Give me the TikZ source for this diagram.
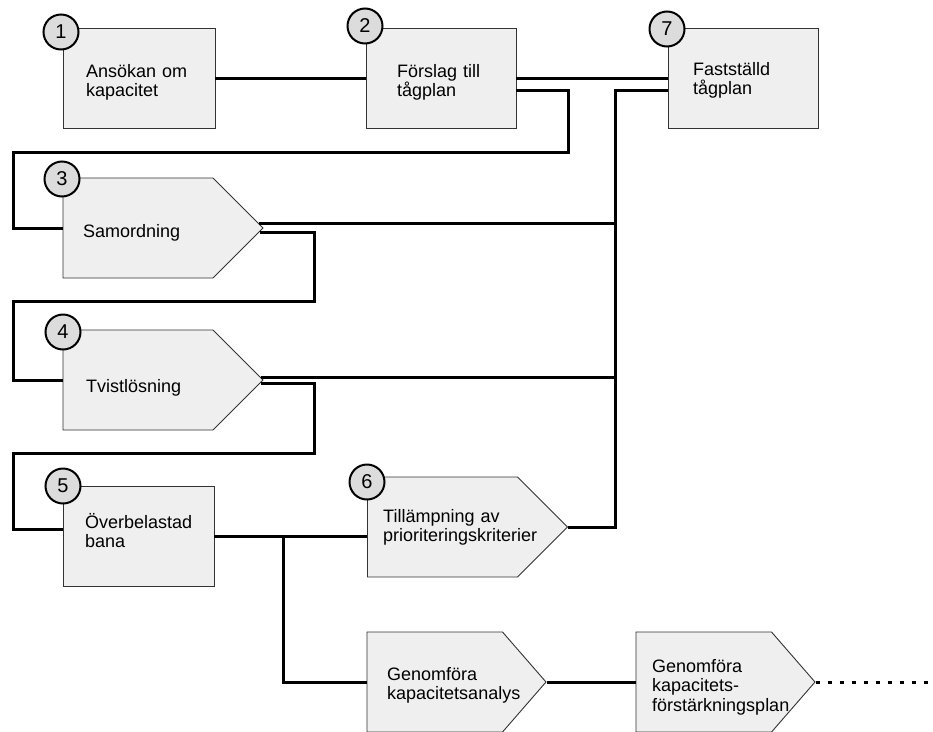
\documentclass[tikz,border=0pt]{standalone}
\usepackage{fontspec}
\setmainfont{Liberation Sans}
\usetikzlibrary{shapes.symbols}
\definecolor{boxfill}{HTML}{EFEFEF}
\definecolor{circfill}{HTML}{DCDCDC}
\definecolor{edge}{HTML}{333333}
\begin{document}
\begin{tikzpicture}[x=1pt,y=-1pt,
  box/.style={draw=edge, fill=boxfill, line width=0.9pt, inner sep=0pt, minimum height=100pt},
  pent/.style={draw=edge, fill=boxfill, line width=0.9pt, inner sep=0pt, shape=signal, signal to=east, signal pointer angle=90, minimum height=100pt},
  num/.style={draw=black, fill=circfill, circle, line width=2pt, minimum size=35pt, inner sep=0pt, font=\fontsize{20}{20}\selectfont},
  lbl/.style={anchor=base west, inner sep=0pt, align=left, text width=170pt, font=\fontsize{18}{19.5}\selectfont},
  conn/.style={draw=black, line width=3pt},
  dots/.style={draw=black, line width=3pt, dash pattern=on 4pt off 8pt}]
\useasboundingbox (0,0) rectangle (933,731);

% boxes and pentagons
\node[box, minimum width=152pt] (b1) at (139,78) {};
\node[box, minimum width=150pt] (b2) at (441,78) {};
\node[box, minimum width=150pt] (b7) at (743,78) {};
\node[pent, minimum width=200pt] (h3) at (138,228) {};
\node[pent, minimum width=200pt] (h4) at (138,380) {};
\node[box, minimum width=151pt] (b5) at (138.5,536) {};
\node[pent, minimum width=200pt] (h6) at (442.5,527) {};
\node[pent, minimum width=179pt, signal pointer angle=98] (h8) at (434.75,682) {};
\node[pent, minimum width=179pt, signal pointer angle=98] (h9) at (703.75,682) {};

% numbered circles
\node[num] (n1) at (61,32) {1};
\node[num] (n2) at (365,26) {2};
\node[num] (n7) at (667,29) {7};
\node[num] (n3) at (62,179) {3};
\node[num] (n4) at (63,332) {4};
\node[num] (n5) at (63,486) {5};
\node[num] (n6) at (367,482) {6};

% labels
\node[lbl] (t1) at (86,77) {Ansökan om\\kapacitet};
\node[lbl] (t2) at (397,77) {Förslag till\\tågplan};
\node[lbl] (t7) at (693,75) {Fastställd\\tågplan};
\node[lbl] (t3) at (83,237) {Samordning};
\node[lbl] (t4) at (86,392) {Tvistlösning};
\node[lbl] (t5) at (85,528) {Överbelastad\\bana};
\node[lbl] (t6) at (383,522) {Tillämpning av\\prioriteringskriterier};
\node[lbl] (t8) at (387,680) {Genomföra\\kapacitetsanalys};
\node[lbl] (t9) at (652,672) {Genomföra\\kapacitets-\\förstärkningsplan};

% connectors
\draw[conn] (b1.east) -- (b2.west);
\draw[conn] (b2.east) -- (b7.west);
\draw[conn] ([yshift=-12pt]b2.east) -| (568,152) -| (13,228) -- (h3.west);
\draw[conn] ([yshift=-12pt]b7.west) -| (615,527) -- (h6.east);
\draw[conn] ([shift={(-5pt,5pt)}]h3.east) -- (615,223);
\draw[conn] ([shift={(-4pt,-4pt)}]h3.east) -| (314,301) -| (13,380) -- (h4.west);
\draw[conn] ([shift={(-3pt,3pt)}]h4.east) -- (615,377);
\draw[conn] ([shift={(-3pt,-3pt)}]h4.east) -| (314,453) -| (13,529) -- ([yshift=7pt]b5.west);
\draw[conn] (b5.east) -- (b5.east -| h6.west);
\draw[conn] (283,536) |- (h8.west);
\draw[conn] (h8.east) -- (h9.west);
\coordinate (dend) at (935,682);
\draw[dots] (h9.east) -- (dend);
\end{tikzpicture}
\end{document}
